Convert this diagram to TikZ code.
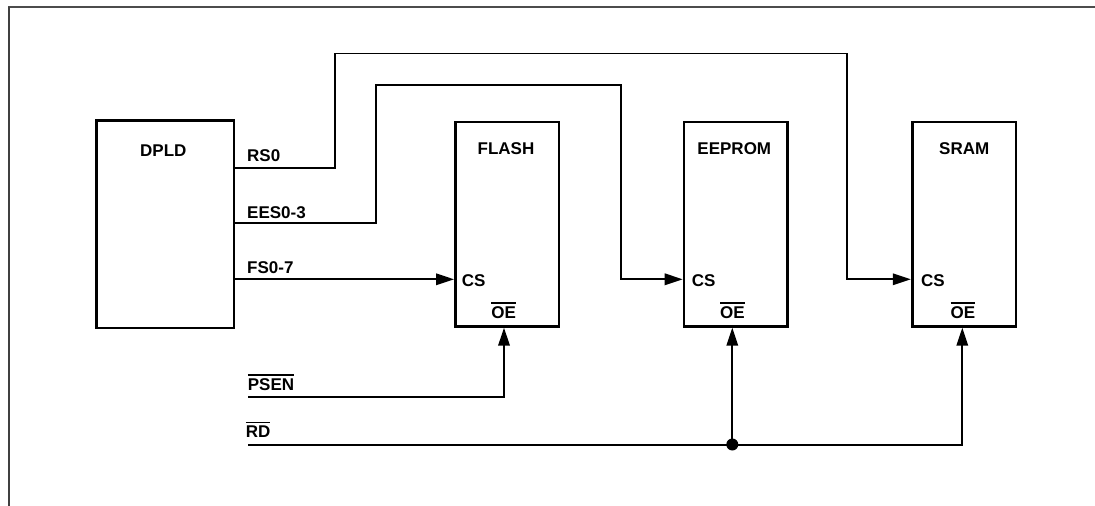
\documentclass[tikz,border=0pt]{standalone}
\usepackage{fontspec}
\setmainfont{Liberation Sans}
\usetikzlibrary{arrows.meta}
\newcommand\ovl[1]{\vbox{\hrule height 1.4pt\kern 2.6pt\hbox{#1}}}
\begin{document}
\begin{tikzpicture}[x=1pt,y=-1pt,
  chip/.style={draw,line width=2.7pt,minimum width=103.7pt,minimum height=204.3pt,inner sep=0pt},
  wire/.style={line width=1.8pt},
  arr/.style={wire,-{Triangle[length=18pt,width=11.5pt]}},
  lbl/.style={inner sep=0pt,anchor=base west,font=\bfseries\fontsize{17}{20}\selectfont},
  clbl/.style={lbl,anchor=base},
]
\useasboundingbox (0,0) rectangle (1095,506);
% frame
\draw[black!70,line width=2pt] (8,7) -- (1095,7);
\draw[black!75,line width=1.3pt] (9,7) -- (9,506);

% chips
\node[chip,minimum width=137.8pt,minimum height=207.8pt] (dpld) at (165.1,224.1) {};
\node[chip] (flash)  at (507.2,224.2) {};
\node[chip] (eeprom) at (735.9,224.2) {};
\node[chip] (sram)   at (964.0,224.2) {};

% chip titles
\node[clbl] (tdpld)   at (163.3,156) {DPLD};
\node[clbl] (tflash)  at (506,154) {FLASH};
\node[clbl] (teeprom) at (734.3,154) {EEPROM};
\node[clbl] (tsram)   at (964.2,154) {SRAM};

% pins
\node[lbl] (csf) at (461.7,286) {CS};
\node[lbl] (cse) at (691.7,286) {CS};
\node[lbl] (css) at (921,286) {CS};
\node[clbl] (oef) at (503.7,318.3) {\ovl{OE}};
\node[clbl] (oee) at (732.3,318.3) {\ovl{OE}};
\node[clbl] (oes) at (962.8,318.3) {\ovl{OE}};

% signal labels
\node[lbl] (lrs)  at (247,161.7) {RS0};
\node[lbl] (lees) at (247,218.3) {EES0-3};
\node[lbl] (lfs)  at (247,273.3) {FS0-7};
\node[lbl] (lpsen) at (247.7,390) {\ovl{PSEN}};
\node[lbl] (lrd)  at (245.7,437.3) {\ovl{RD}};

% helper coordinates
\coordinate (yrs) at (0,167.7);
\coordinate (yees) at (0,222.7);
\coordinate (ycs) at (0,279.3);
\coordinate (ypsen) at (0,397.3);
\coordinate (yrd) at (0,445);
\coordinate (xf) at (504,0);
\coordinate (xs) at (962.3,0);
\coordinate (psenS) at (248,397.3);
\coordinate (rdS) at (248,445);
\node[circle,fill,inner sep=0pt,minimum size=12pt] (j) at (732.3,444.5) {};

% chip-select connectors
\draw[arr] (dpld.east |- yrs) -- (335,167.7) -- (335,53.5) -- (846.7,53.5) -- (846.7,279.3) -- (sram.west |- ycs);
\draw[arr] (dpld.east |- yees) -- (376,222.7) -- (376,85) -- (621,85) -- (621,279.3) -- (eeprom.west |- ycs);
\draw[arr] (dpld.east |- ycs) -- (flash.west |- ycs);

% output enable connectors
\draw[arr] (psenS) -- (xf |- ypsen) -- (flash.south -| xf);
\draw[arr] (rdS) -- (xs |- yrd) -- (sram.south -| xs);
\draw[arr] (j.center) -- (eeprom.south -| j.center);
\end{tikzpicture}
\end{document}
